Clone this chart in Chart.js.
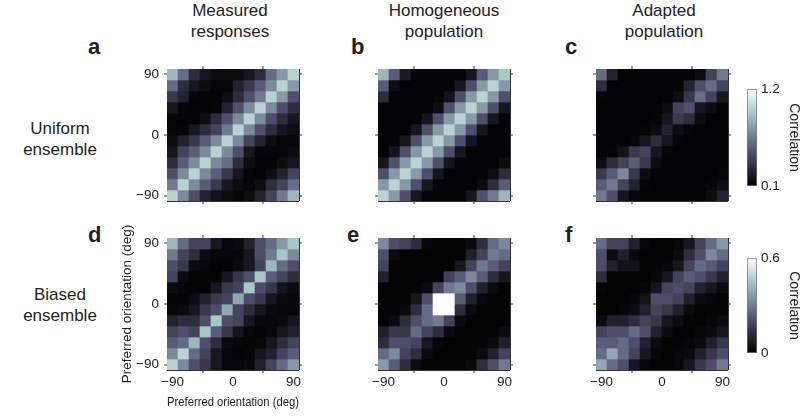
<!DOCTYPE html>
<html><head><meta charset="utf-8">
<script src="https://cdn.jsdelivr.net/npm/chart.js@4/dist/chart.umd.min.js"></script>
<style>
body{margin:0;width:800px;height:416px;background:#fff;position:relative;overflow:hidden;font-family:"Liberation Sans",Arial,Helvetica,sans-serif;color:#222}
.t{position:absolute;font-size:17px;text-align:center;line-height:21px;white-space:nowrap;width:140px}
.l{position:absolute;font-size:22px;font-weight:bold;line-height:22px}
canvas{position:absolute}
</style></head><body>
<div class="t" style="left:160px;top:0px">Measured<br>responses</div>
<div class="t" style="left:374px;top:0px">Homogeneous<br>population</div>
<div class="t" style="left:594px;top:0px">Adapted<br>population</div>
<div class="t" style="left:-10px;top:118px">Uniform<br>ensemble</div>
<div class="t" style="left:-10px;top:284px">Biased<br>ensemble</div>
<div class="l" style="left:88px;top:36px">a</div>
<div class="l" style="left:351px;top:36px">b</div>
<div class="l" style="left:565px;top:36px">c</div>
<div class="l" style="left:88px;top:224px">d</div>
<div class="l" style="left:347px;top:224px">e</div>
<div class="l" style="left:565px;top:224px">f</div>

<canvas id="pa" width="188" height="196" style="left:115px;top:49px"></canvas>
<canvas id="pb" width="188" height="196" style="left:326px;top:49px"></canvas>
<canvas id="pc" width="188" height="196" style="left:544px;top:49px"></canvas>
<canvas id="pd" width="188" height="196" style="left:115px;top:218px"></canvas>
<canvas id="pe" width="188" height="196" style="left:326px;top:218px"></canvas>
<canvas id="pf" width="188" height="196" style="left:544px;top:218px"></canvas>
<canvas id="cb1" width="55" height="121" style="left:747px;top:77px"></canvas>
<canvas id="cb2" width="55" height="119" style="left:747px;top:246px"></canvas>
<script>
// Cell centres (preferred orientation, deg), left->right and bottom->top
const orientations = [-90,-73.64,-57.27,-40.91,-24.55,-8.18,8.18,24.55,40.91,57.27,73.64,90];
const tickValues = [-90, 0, 90];
const uniformRange = [0.1, 1.2];
const biasedRange = [0, 0.6];

// Matrices: rows listed top (90 deg) to bottom (-90 deg), columns -90 -> 90
const measuredUniform = [
 [0.87,0.60,0.32,0.21,0.16,0.16,0.16,0.21,0.32,0.60,0.76,0.98],
 [0.60,0.32,0.21,0.16,0.13,0.13,0.27,0.38,0.54,0.71,0.98,0.76],
 [0.38,0.27,0.13,0.12,0.12,0.16,0.32,0.49,0.65,0.98,0.76,0.49],
 [0.21,0.13,0.12,0.12,0.13,0.27,0.49,0.71,0.98,0.71,0.49,0.32],
 [0.13,0.12,0.12,0.16,0.32,0.49,0.71,0.98,0.71,0.49,0.32,0.21],
 [0.13,0.13,0.21,0.32,0.43,0.65,0.98,0.71,0.49,0.32,0.21,0.16],
 [0.16,0.27,0.38,0.54,0.71,0.98,0.71,0.43,0.27,0.16,0.13,0.13],
 [0.21,0.43,0.54,0.71,0.98,0.71,0.49,0.21,0.13,0.13,0.13,0.16],
 [0.32,0.54,0.71,0.98,0.71,0.60,0.32,0.16,0.12,0.12,0.16,0.21],
 [0.49,0.71,0.98,0.71,0.54,0.38,0.21,0.13,0.12,0.16,0.27,0.43],
 [0.65,0.98,0.71,0.54,0.38,0.21,0.16,0.13,0.16,0.32,0.43,0.60],
 [0.98,0.71,0.49,0.27,0.19,0.16,0.13,0.16,0.27,0.43,0.65,0.87]
];
const homogeneousUniform = [
 [0.87,0.54,0.23,0.12,0.12,0.12,0.12,0.12,0.21,0.54,0.76,0.93],
 [0.54,0.16,0.12,0.12,0.12,0.12,0.12,0.21,0.49,0.76,0.98,0.76],
 [0.32,0.12,0.12,0.12,0.12,0.12,0.19,0.49,0.76,0.98,0.76,0.49],
 [0.12,0.12,0.12,0.12,0.12,0.16,0.49,0.76,0.98,0.76,0.49,0.21],
 [0.12,0.12,0.12,0.12,0.21,0.49,0.76,0.98,0.76,0.49,0.21,0.12],
 [0.12,0.12,0.12,0.21,0.49,0.76,0.98,0.76,0.49,0.21,0.12,0.12],
 [0.12,0.12,0.21,0.49,0.76,0.98,0.76,0.49,0.21,0.12,0.12,0.12],
 [0.12,0.21,0.49,0.76,0.98,0.76,0.49,0.21,0.12,0.12,0.12,0.12],
 [0.21,0.49,0.76,0.98,0.76,0.49,0.21,0.12,0.12,0.12,0.12,0.16],
 [0.49,0.76,0.98,0.76,0.49,0.21,0.12,0.12,0.12,0.12,0.16,0.32],
 [0.76,0.98,0.76,0.49,0.21,0.12,0.12,0.12,0.12,0.16,0.32,0.54],
 [0.98,0.76,0.49,0.21,0.12,0.12,0.12,0.12,0.21,0.49,0.65,0.87]
];
const adaptedUniform = [
 [0.60,0.27,0.12,0.12,0.12,0.12,0.12,0.12,0.12,0.16,0.43,0.65],
 [0.32,0.12,0.12,0.12,0.12,0.12,0.12,0.12,0.27,0.49,0.60,0.43],
 [0.13,0.12,0.12,0.12,0.12,0.12,0.12,0.16,0.38,0.60,0.43,0.21],
 [0.12,0.12,0.12,0.12,0.12,0.12,0.16,0.43,0.49,0.21,0.16,0.12],
 [0.12,0.12,0.12,0.12,0.12,0.13,0.21,0.38,0.32,0.16,0.12,0.12],
 [0.12,0.12,0.12,0.12,0.13,0.16,0.27,0.16,0.13,0.12,0.12,0.12],
 [0.12,0.12,0.12,0.13,0.21,0.32,0.21,0.13,0.12,0.12,0.12,0.12],
 [0.12,0.13,0.19,0.38,0.43,0.21,0.13,0.12,0.12,0.12,0.12,0.12],
 [0.16,0.32,0.43,0.54,0.38,0.16,0.12,0.12,0.12,0.12,0.12,0.12],
 [0.38,0.54,0.71,0.38,0.16,0.12,0.12,0.12,0.12,0.12,0.12,0.13],
 [0.54,0.65,0.43,0.27,0.13,0.12,0.12,0.12,0.12,0.12,0.13,0.16],
 [0.65,0.49,0.21,0.13,0.12,0.12,0.12,0.12,0.12,0.12,0.16,0.27]
];
const measuredBiased = [
 [0.42,0.27,0.18,0.18,0.06,0.02,0.03,0.09,0.21,0.27,0.36,0.45],
 [0.30,0.18,0.12,0.03,0.02,0.02,0.02,0.06,0.21,0.30,0.45,0.33],
 [0.21,0.15,0.03,0.02,0.01,0.01,0.03,0.06,0.18,0.42,0.27,0.21],
 [0.18,0.03,0.01,0.01,0.01,0.06,0.15,0.21,0.45,0.24,0.18,0.12],
 [0.03,0.02,0.01,0.01,0.06,0.15,0.18,0.45,0.21,0.15,0.06,0.03],
 [0.01,0.01,0.03,0.09,0.15,0.18,0.39,0.21,0.15,0.06,0.03,0.02],
 [0.02,0.03,0.06,0.15,0.21,0.39,0.18,0.12,0.06,0.03,0.02,0.02],
 [0.09,0.12,0.12,0.21,0.45,0.21,0.18,0.06,0.02,0.02,0.03,0.06],
 [0.18,0.21,0.18,0.45,0.24,0.15,0.06,0.02,0.01,0.02,0.06,0.09],
 [0.24,0.27,0.42,0.21,0.12,0.03,0.02,0.01,0.02,0.06,0.12,0.18],
 [0.33,0.48,0.27,0.18,0.06,0.02,0.01,0.02,0.06,0.09,0.18,0.24],
 [0.48,0.33,0.21,0.15,0.06,0.02,0.02,0.03,0.09,0.18,0.27,0.36]
];
const homogeneousBiased = [
 [0.33,0.21,0.18,0.12,0.02,0.01,0.01,0.01,0.03,0.12,0.27,0.33],
 [0.21,0.03,0.01,0.01,0.01,0.01,0.01,0.01,0.09,0.18,0.30,0.27],
 [0.18,0.01,0.01,0.01,0.01,0.01,0.01,0.06,0.18,0.30,0.24,0.18],
 [0.09,0.01,0.01,0.01,0.01,0.01,0.18,0.24,0.33,0.24,0.12,0.06],
 [0.01,0.01,0.01,0.01,0.03,0.18,0.30,0.33,0.21,0.09,0.03,0.01],
 [0.01,0.01,0.01,0.06,0.21,0.75,0.72,0.24,0.09,0.03,0.01,0.01],
 [0.01,0.01,0.03,0.12,0.27,0.74,0.68,0.12,0.03,0.01,0.01,0.01],
 [0.01,0.03,0.12,0.21,0.27,0.30,0.18,0.03,0.01,0.01,0.01,0.01],
 [0.09,0.15,0.15,0.27,0.18,0.12,0.03,0.01,0.01,0.01,0.01,0.03],
 [0.12,0.21,0.21,0.18,0.06,0.02,0.01,0.01,0.01,0.01,0.03,0.09],
 [0.27,0.33,0.18,0.12,0.03,0.01,0.01,0.01,0.01,0.03,0.09,0.18],
 [0.36,0.24,0.12,0.03,0.01,0.01,0.01,0.01,0.03,0.12,0.21,0.30]
];
const adaptedBiased = [
 [0.27,0.18,0.18,0.09,0.02,0.01,0.01,0.02,0.06,0.18,0.27,0.36],
 [0.21,0.03,0.09,0.03,0.01,0.01,0.01,0.03,0.12,0.21,0.33,0.27],
 [0.21,0.09,0.05,0.05,0.01,0.01,0.02,0.06,0.18,0.27,0.24,0.18],
 [0.12,0.01,0.01,0.01,0.01,0.02,0.06,0.18,0.24,0.21,0.15,0.09],
 [0.02,0.01,0.01,0.01,0.02,0.06,0.18,0.21,0.18,0.09,0.06,0.03],
 [0.01,0.01,0.01,0.02,0.05,0.21,0.21,0.18,0.09,0.03,0.02,0.01],
 [0.01,0.01,0.02,0.03,0.09,0.18,0.15,0.09,0.03,0.01,0.01,0.01],
 [0.03,0.09,0.09,0.12,0.18,0.15,0.06,0.03,0.01,0.01,0.02,0.03],
 [0.18,0.21,0.21,0.27,0.21,0.09,0.03,0.01,0.01,0.02,0.03,0.06],
 [0.24,0.24,0.27,0.21,0.09,0.03,0.01,0.01,0.02,0.03,0.09,0.15],
 [0.27,0.39,0.27,0.18,0.06,0.02,0.01,0.02,0.03,0.09,0.15,0.21],
 [0.39,0.27,0.21,0.06,0.02,0.01,0.01,0.02,0.06,0.15,0.21,0.30]
];

// MATLAB "bone" colormap
function bone(t){
  t = Math.max(0, Math.min(1, t));
  const hr = Math.min(1, t/0.375);
  const hg = Math.max(0, Math.min(1, (t-0.375)/0.375));
  const hb = Math.max(0, Math.min(1, (t-0.75)/0.25));
  const r = (7*t + hb)/8, g = (7*t + hg)/8, b = (7*t + hr)/8;
  return 'rgb(' + Math.round(r*255) + ',' + Math.round(g*255) + ',' + Math.round(b*255) + ')';
}

const edges = orientations.map((c, k) => {
  const n = orientations.length;
  const lo = k === 0 ? c - (orientations[1] - c)/2 : (orientations[k-1] + c)/2;
  const hi = k === n-1 ? c + (c - orientations[k-1])/2 : (c + orientations[k+1])/2;
  return [lo, hi];
});
const axisMin = edges[0][0], axisMax = edges[edges.length-1][1];

const FONT = {family: '"Liberation Sans", Arial, sans-serif', size: 13.5};
const INK = '#222';
const FRAME = '#333';
const fmt = v => v < 0 ? '\u2212' + Math.abs(v) : String(v);
const setTicks = s => { s.ticks = tickValues.map(v => ({value: v})); };

function axis(position, showLabels, showTitle, size){
  const horiz = position === 'top' || position === 'bottom';
  return {
    type: 'linear', position, min: axisMin, max: axisMax, offset: false,
    afterBuildTicks: setTicks,
    afterFit: s => { if (horiz) s.height = size; else s.width = size; },
    ticks: {display: showLabels, font: FONT, color: INK, padding: horiz ? 1 : 5, maxRotation: 0, autoSkip: false, callback: fmt},
    grid: {display: true, drawOnChartArea: false, drawTicks: true, tickLength: 3, lineWidth: 0, tickWidth: 1, tickColor: FRAME, color: FRAME},
    border: {display: true, color: FRAME, width: 1},
    title: {display: showTitle, text: 'Preferred orientation (deg)', font: FONT, color: INK, padding: {top: 4, bottom: 4}}
  };
}

function heatmap(id, matrix, range, showX, showY, showTitles){
  const n = matrix.length;
  const datasets = matrix.map((row, i) => ({
    data: row.map((v, j) => ({x: orientations[j], y: edges[n-1-i], v})),
    backgroundColor: ctx => bone((ctx.raw.v - range[0]) / (range[1] - range[0])),
    borderWidth: 0,
    grouped: false,
    barPercentage: 1,
    categoryPercentage: 1
  }));
  new Chart(document.getElementById(id), {
    type: 'bar',
    data: {datasets},
    options: {
      responsive: false, animation: false, events: [],
      layout: {padding: 0},
      plugins: {legend: {display: false}, tooltip: {enabled: false}},
      scales: {
        x: axis('bottom', showX, showTitles, 44),
        y: axis('left', showY, showTitles, 52),
        x2: axis('top', false, false, 20),
        y2: axis('right', false, false, 4)
      }
    }
  });
}

heatmap('pa', measuredUniform, uniformRange, false, true, false);
heatmap('pb', homogeneousUniform, uniformRange, false, false, false);
heatmap('pc', adaptedUniform, uniformRange, false, false, false);
heatmap('pd', measuredBiased, biasedRange, true, true, true);
heatmap('pe', homogeneousBiased, biasedRange, true, false, false);
heatmap('pf', adaptedBiased, biasedRange, true, false, false);

function colorbar(id, range){
  new Chart(document.getElementById(id), {
    type: 'bar',
    data: {labels: [''], datasets: [{
      data: [[range[0], range[1]]],
      backgroundColor: ctx => {
        const area = ctx.chart.chartArea;
        if (!area) return '#000';
        const g = ctx.chart.ctx.createLinearGradient(0, area.bottom, 0, area.top);
        [0, 0.375, 0.75, 1].forEach(s => g.addColorStop(s, bone(s)));
        return g;
      },
      borderColor: '#777', borderWidth: 1, borderSkipped: false,
      barPercentage: 1, categoryPercentage: 1
    }]},
    options: {
      responsive: false, animation: false, events: [],
      layout: {padding: {top: 8, bottom: 8, left: 0, right: 0}},
      plugins: {legend: {display: false}, tooltip: {enabled: false}},
      scales: {
        x: {display: false},
        y: {
          position: 'right', min: range[0], max: range[1],
          afterBuildTicks: s => { s.ticks = range.map(v => ({value: v})); },
          afterFit: s => { s.width = 45; },
          ticks: {font: FONT, color: INK, padding: 4},
          grid: {display: false, drawTicks: false},
          border: {display: false},
          title: {display: true, text: 'Correlation', font: {family: FONT.family, size: 14}, color: INK, padding: {top: 0, bottom: 0}}
        }
      }
    }
  });
}
colorbar('cb1', uniformRange);
colorbar('cb2', biasedRange);
</script>
</body></html>
